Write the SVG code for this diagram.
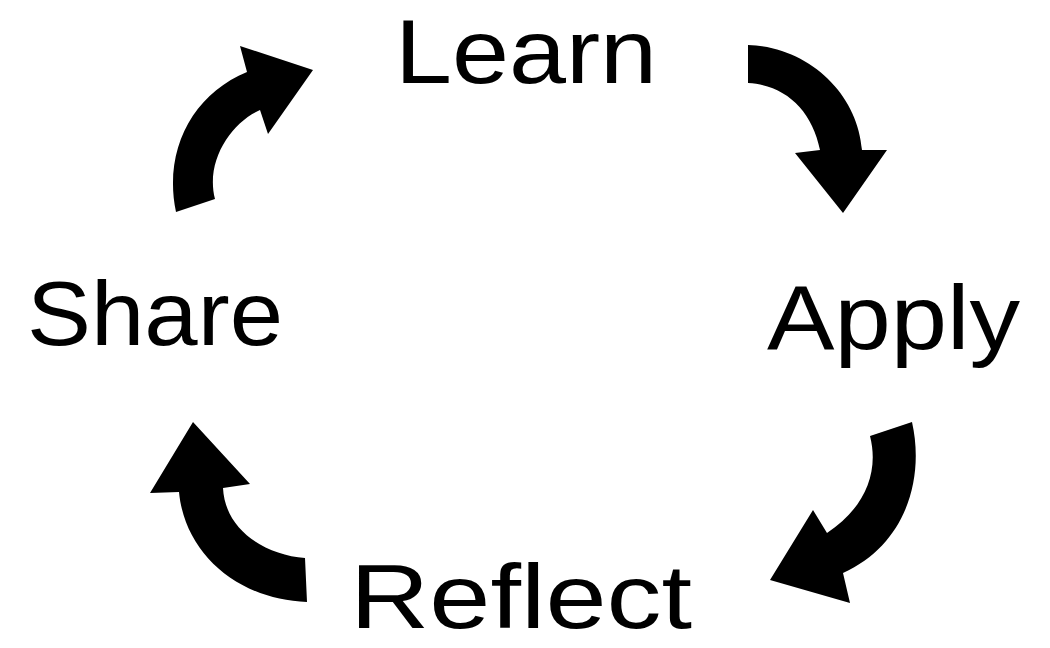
<svg xmlns="http://www.w3.org/2000/svg" width="1050" height="648" viewBox="0 0 1050 648">
<style>
.lbl{font-family:"Comic Sans MS","Liberation Sans","Noto Sans",sans-serif;font-size:90px;fill:#000;}
.arr{fill:#000;stroke:none;}
</style>
<rect width="1050" height="648" fill="#fff"/>
<g id="connectors">
<path class="arr" d="M176,212 C163,150 193,94 247,72 L240,46 L313,70 L268,134 L260,110 C232,122 205,160 215,199 Z"/>
<path class="arr" d="M748,45 C810,47 858,95 862,150 L887,150 L843,213 L795,153 L820,150 C812,110 785,85 748,83 Z"/>
<path class="arr" d="M912,422 C925,480 905,545 843,573 L850,603 L770,580 L813,510 L827,533 C862,510 880,475 870,436 Z"/>
<path class="arr" d="M305,558 C265,555 225,530 223,488 L250,484 L193,422 L150,493 L179,492 C185,555 240,600 307,602 Z"/>
</g>
<g id="learn"><text class="lbl" x="395" y="83" textLength="262" lengthAdjust="spacingAndGlyphs">Learn</text></g>
<g id="apply"><text class="lbl" x="767" y="349" textLength="253" lengthAdjust="spacingAndGlyphs">Apply</text></g>
<g id="reflect"><text class="lbl" x="350" y="628" textLength="342" lengthAdjust="spacingAndGlyphs">Reflect</text></g>
<g id="share"><text class="lbl" x="27" y="345" textLength="256" lengthAdjust="spacingAndGlyphs">Share</text></g>
</svg>
